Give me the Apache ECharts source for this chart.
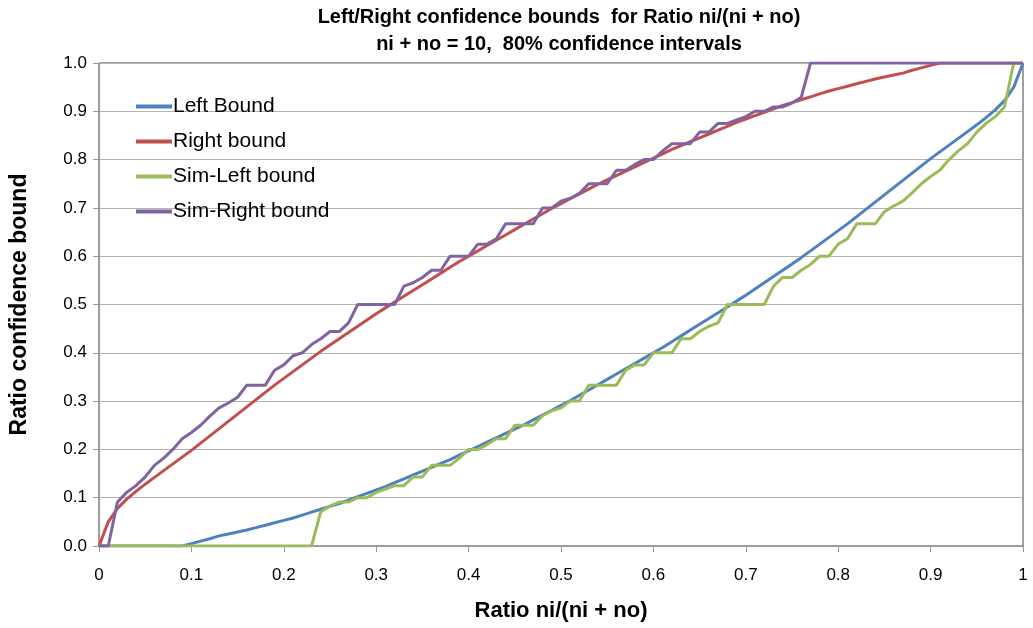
<!DOCTYPE html>
<html>
<head>
<meta charset="utf-8">
<script src="https://cdn.jsdelivr.net/npm/echarts@6/dist/echarts.min.js"></script>
<style>html,body{margin:0;padding:0;background:#fff}#c{width:1033px;height:628px}</style>
</head>
<body>
<div id="c"></div>
<script>
const ratio = [0,0.01,0.02,0.03,0.04,0.05,0.06,0.07,0.08,0.09,
0.10,0.11,0.12,0.13,0.14,0.15,0.16,0.17,0.18,0.19,
0.20,0.21,0.22,0.23,0.24,0.25,0.26,0.27,0.28,0.29,
0.30,0.31,0.32,0.33,0.34,0.35,0.36,0.37,0.38,0.39,
0.40,0.41,0.42,0.43,0.44,0.45,0.46,0.47,0.48,0.49,
0.50,0.51,0.52,0.53,0.54,0.55,0.56,0.57,0.58,0.59,
0.60,0.61,0.62,0.63,0.64,0.65,0.66,0.67,0.68,0.69,
0.70,0.71,0.72,0.73,0.74,0.75,0.76,0.77,0.78,0.79,
0.80,0.81,0.82,0.83,0.84,0.85,0.86,0.87,0.88,0.89,
0.90,0.91,0.92,0.93,0.94,0.95,0.96,0.97,0.98,0.99,1.00];

const leftBound = [0,0,0,0,0,0,0,0,0,0,
0.005,0.010,0.015,0.021,0.025,0.029,0.033,0.038,0.043,0.048,
0.053,0.058,0.064,0.070,0.076,0.082,0.088,0.095,0.102,0.109,
0.116,0.123,0.131,0.139,0.147,0.155,0.163,0.171,0.179,0.188,
0.197,0.206,0.215,0.224,0.233,0.242,0.251,0.261,0.271,0.281,
0.291,0.301,0.312,0.323,0.334,0.345,0.356,0.367,0.378,0.389,
0.400,0.411,0.423,0.435,0.447,0.459,0.471,0.483,0.495,0.507,
0.519,0.532,0.545,0.558,0.571,0.584,0.597,0.611,0.625,0.639,
0.653,0.667,0.682,0.697,0.712,0.727,0.742,0.757,0.772,0.787,
0.802,0.816,0.830,0.844,0.858,0.872,0.887,0.903,0.922,0.950,1];

const rightBound = [0,0.050,0.078,0.097,0.113,0.128,0.142,0.156,0.170,0.184,
0.198,0.213,0.228,0.243,0.258,0.273,0.288,0.303,0.318,0.333,
0.347,0.361,0.375,0.389,0.403,0.416,0.429,0.442,0.455,0.468,
0.481,0.493,0.505,0.517,0.529,0.541,0.553,0.565,0.577,0.589,
0.600,0.611,0.622,0.633,0.644,0.655,0.666,0.677,0.688,0.699,
0.709,0.719,0.729,0.739,0.749,0.758,0.767,0.776,0.785,0.794,
0.803,0.812,0.821,0.829,0.837,0.845,0.853,0.861,0.869,0.877,
0.884,0.891,0.898,0.905,0.912,0.918,0.924,0.930,0.936,0.942,
0.947,0.952,0.957,0.962,0.967,0.971,0.975,0.979,0.985,0.990,
0.995,1,1,1,1,1,1,1,1,1,1];

const simLeft = [0,0,0,0,0,0,0,0,0,0,
0,0,0,0,0,0,0,0,0,0,
0,0,0,0,0.071,0.083,0.091,0.091,0.1,0.1,
0.111,0.118,0.125,0.125,0.143,0.143,0.167,0.167,0.167,0.182,
0.2,0.2,0.21,0.222,0.222,0.25,0.25,0.25,0.27,0.28,
0.286,0.3,0.3,0.333,0.333,0.333,0.333,0.364,0.375,0.375,
0.4,0.4,0.4,0.429,0.429,0.444,0.455,0.462,0.5,0.5,
0.5,0.5,0.5,0.538,0.556,0.556,0.571,0.583,0.6,0.6,
0.625,0.636,0.667,0.667,0.667,0.692,0.704,0.714,0.731,0.75,
0.765,0.778,0.8,0.818,0.833,0.857,0.875,0.889,0.909,1,1];

const simRight = [0,0,0.091,0.111,0.125,0.143,0.167,0.182,0.2,0.222,
0.235,0.25,0.269,0.286,0.296,0.308,0.333,0.333,0.333,0.364,
0.375,0.394,0.4,0.417,0.429,0.444,0.444,0.462,0.5,0.5,
0.5,0.5,0.5,0.538,0.545,0.556,0.571,0.571,0.6,0.6,
0.6,0.625,0.625,0.636,0.667,0.667,0.667,0.667,0.7,0.7,
0.714,0.72,0.73,0.75,0.75,0.75,0.778,0.778,0.79,0.8,
0.8,0.818,0.833,0.833,0.833,0.857,0.857,0.875,0.875,0.882,
0.889,0.9,0.9,0.909,0.909,0.917,0.929,1,1,1,
1,1,1,1,1,1,1,1,1,1,
1,1,1,1,1,1,1,1,1,1,1];

const seriesNames = ['Left Bound','Right bound','Sim-Left bound','Sim-Right bound'];
const seriesValues = [leftBound, rightBound, simLeft, simRight];
const colors = ['#4F81BD','#C0504D','#9BBB59','#8064A2'];

const FONT = '"Liberation Sans", Arial, sans-serif';
const chart = echarts.init(document.getElementById('c'), null, {renderer:'canvas'});
chart.setOption({
  animation: false,
  backgroundColor: '#fff',
  title: {
    text: 'Left/Right confidence bounds  for Ratio ni/(ni + no)\nni + no = 10,  80% confidence intervals',
    left: 559,
    top: 4,
    textAlign: 'center',
    padding: 0,
    textStyle: {fontFamily: FONT, fontSize: 20, fontWeight: 'bold', color: '#000', lineHeight: 27}
  },
  legend: {
    orient: 'vertical',
    left: 131, top: 91,
    icon: 'rect',
    itemWidth: 36, itemHeight: 4,
    itemGap: 14,
    textStyle: {fontFamily: FONT, fontSize: 21, color: '#000', padding: [0,0,0,-4]},
    data: seriesNames
  },
  grid: {left: 98, right: 10, top: 63, bottom: 82, show: true, borderColor: '#404040', borderWidth: 1, containLabel: false},
  xAxis: {
    type: 'value', min: 0, max: 1, interval: 0.1,
    name: 'Ratio ni/(ni + no)', nameLocation: 'middle', nameGap: 54,
    nameTextStyle: {fontFamily: FONT, fontSize: 22, fontWeight: 'bold', color: '#000'},
    axisLine: {lineStyle: {color: '#999', width: 1}},
    axisTick: {show: true, length: 6, lineStyle: {color: '#999'}},
    splitLine: {show: false},
    axisLabel: {fontFamily: FONT, fontSize: 17, color: '#000', margin: 21,
      formatter: v => (v === 0 ? '0' : (Math.abs(v-1) < 1e-9 ? '1' : v.toFixed(1)))}
  },
  yAxis: {
    type: 'value', min: 0, max: 1, interval: 0.1,
    name: 'Ratio confidence bound', nameLocation: 'middle', nameGap: 68,
    nameTextStyle: {fontFamily: FONT, fontSize: 23, fontWeight: 'bold', color: '#000'},
    axisLine: {show: true, lineStyle: {color: '#999', width: 1}},
    axisTick: {show: true, length: 6, lineStyle: {color: '#999'}},
    splitLine: {show: true, lineStyle: {color: '#b3b3b3', width: 1}},
    axisLabel: {fontFamily: FONT, fontSize: 17, color: '#000', margin: 12,
      formatter: v => v.toFixed(1)}
  },
  series: seriesNames.map((n, i) => ({
    name: n, type: 'line', symbol: 'none', smooth: false,
    color: colors[i],
    lineStyle: {width: 3, color: colors[i]},
    data: ratio.map((x, j) => [x, seriesValues[i][j]])
  }))
});
</script>
</body>
</html>
